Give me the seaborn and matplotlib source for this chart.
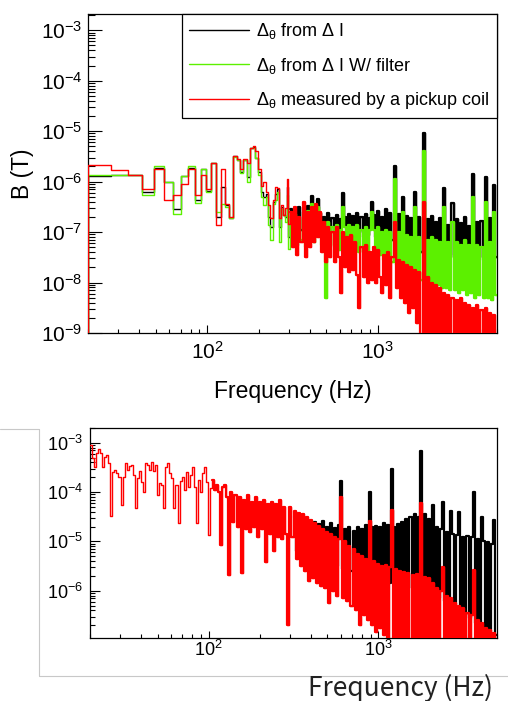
import matplotlib

matplotlib.use("Agg")
import matplotlib.pyplot as plt
import numpy as np
import pandas as pd
import seaborn as sns
from matplotlib.lines import Line2D
from matplotlib.ticker import LogLocator, NullFormatter

sns.set_style("ticks")
plt.rcParams["font.family"] = ["Liberation Sans", "DejaVu Sans"]
plt.rcParams["mathtext.fontset"] = "custom"
plt.rcParams["mathtext.rm"] = "Liberation Sans"
plt.rcParams["mathtext.it"] = "Liberation Sans"
plt.rcParams["mathtext.bf"] = "Liberation Sans:bold"
plt.rcParams["path.simplify"] = False
for key in ["text.color", "axes.labelcolor", "xtick.color", "ytick.color", "axes.edgecolor"]:
    plt.rcParams[key] = "black"

# ---------------- data (values are log10 of B in tesla) ----------------
# top panel: FFT bins of 7.15 Hz from 20.1 Hz up to ~306 Hz ...
f_bin_width = 7.15
f_first_edge = 20.1
n_low_bins = 40
# ... then merged onto 100 log-spaced bins up to 5 kHz
n_high_bins = 100
f_max = 5000.0

top_black_low = [
    -5.88, -5.87, -5.86, -6.20, -5.72, -6.00, -6.55, -5.88, -5.72, -6.37,
    -5.75, -6.18, -5.63, -6.70, -6.10, -6.47, -6.72, -5.50, -5.57, -5.80,
    -5.57, -5.90, -5.34, -5.31, -5.53, -5.80, -6.20, -6.30, -6.25, -6.70,
    -6.90, -6.40, -6.25, -6.15, -6.90, -6.50, -6.67, -6.70, -6.10, -7.10,
]
top_green_low = [
    -5.87, -5.87, -5.87, -6.26, -5.69, -6.00, -6.64, -5.88, -5.69, -6.42,
    -5.75, -6.21, -5.63, -6.60, -6.44, -6.50, -6.73, -5.52, -5.57, -5.82,
    -5.58, -6.01, -5.34, -5.33, -5.53, -5.86, -6.31, -6.46, -6.30, -6.85,
    -7.16, -6.45, -6.37, -6.20, -7.20, -6.55, -6.67, -6.80, -6.26, -7.33,
]
top_red_low = [
    -5.67, -5.77, -5.86, -6.14, -5.75, -6.37, -6.26, -6.04, -5.75, -6.26,
    -5.86, -6.14, -5.63, -6.85, -5.75, -6.44, -6.70, -5.50, -5.55, -5.75,
    -5.56, -5.63, -5.34, -5.30, -5.40, -5.75, -6.08, -6.01, -6.21, -6.47,
    -6.73, -6.37, -6.11, -6.12, -6.73, -6.47, -6.67, -6.52, -5.94, -6.83,
]

top_black_high = [
    -6.55, -6.95, -6.62, -7.00, -6.50, -6.95, -6.60, -7.00, -6.48, -6.95,
    -6.29, -6.95, -6.68, -6.35, -6.62, -7.00, -6.70, -6.98, -6.62, -7.00,
    -6.72, -7.00, -6.66, -7.05, -6.75, -6.23, -6.70, -7.05, -6.65, -7.00,
    -6.68, -7.05, -6.62, -7.00, -6.70, -7.10, -6.64, -7.05, -6.72, -6.41,
    -6.66, -7.10, -6.58, -7.05, -6.70, -7.15, -6.55, -7.10, -6.62, -7.15,
    -5.70, -7.20, -6.65, -7.25, -6.31, -7.30, -6.68, -7.25, -6.72, -7.35,
    -6.21, -7.30, -6.70, -7.40, -5.03, -7.35, -6.75, -7.40, -6.68, -7.45,
    -6.80, -7.40, -6.72, -7.45, -6.13, -7.40, -6.85, -7.50, -6.43, -7.45,
    -6.75, -7.50, -6.82, -7.45, -6.70, -7.50, -6.88, -7.50, -5.84, -7.55,
    -6.80, -7.50, -6.78, -7.55, -5.90, -7.50, -6.72, -7.55, -6.06, -7.50,
]
top_green_high = [
    -6.70, -7.20, -6.65, -7.25, -6.75, -7.15, -6.65, -7.30, -6.58, -7.20,
    -6.45, -7.20, -6.80, -6.50, -6.85, -7.25, -6.85, -8.30, -6.80, -7.25,
    -6.90, -7.30, -6.85, -7.35, -6.95, -6.50, -6.90, -7.35, -6.85, -7.30,
    -6.90, -7.35, -6.85, -7.40, -6.95, -7.40, -6.90, -7.45, -6.95, -6.60,
    -6.95, -7.50, -6.90, -7.45, -7.00, -7.55, -6.95, -7.50, -7.00, -7.60,
    -5.95, -7.65, -7.00, -7.70, -6.60, -7.75, -7.05, -7.80, -7.10, -7.85,
    -6.50, -7.90, -7.10, -7.95, -5.40, -7.90, -7.15, -8.00, -7.10, -8.05,
    -7.15, -8.05, -7.20, -8.10, -6.50, -8.10, -7.20, -8.15, -6.80, -8.15,
    -7.20, -8.20, -7.25, -8.15, -7.15, -8.25, -7.25, -8.20, -6.30, -8.30,
    -7.25, -8.25, -7.30, -8.30, -6.40, -8.30, -7.20, -8.35, -6.60, -8.25,
]
top_red_high = [
    -6.60, -7.30, -6.50, -7.45, -6.70, -7.20, -6.40, -7.50, -6.60, -7.30,
    -6.50, -7.20, -6.45, -7.10, -6.60, -7.40, -6.80, -7.60, -6.90, -7.50,
    -7.00, -7.60, -6.90, -7.50, -8.20, -7.00, -7.70, -7.10, -7.80, -7.05,
    -7.75, -7.20, -7.85, -8.50, -7.30, -7.90, -7.25, -8.00, -7.40, -7.95,
    -7.30, -8.00, -7.35, -7.90, -8.20, -7.45, -8.05, -7.40, -8.30, -7.50,
    -6.80, -8.10, -7.55, -8.30, -7.60, -8.40, -7.65, -8.60, -7.70, -8.50,
    -7.75, -8.80, -7.80, -9.30, -6.40, -9.30, -7.90, -9.30, -8.00, -9.30,
    -8.05, -9.30, -8.10, -9.30, -8.20, -9.30, -8.25, -9.30, -8.30, -9.30,
    -8.35, -9.30, -8.30, -9.30, -8.40, -9.30, -8.45, -9.30, -8.50, -9.30,
    -8.45, -9.30, -8.55, -9.30, -8.50, -9.30, -8.60, -9.30, -8.65, -9.30,
]

# bottom panel: 200 log-spaced bins 20 Hz - 5 kHz
n_bottom_bins = 200
bottom_red = [
    -3.05, -3.30, -3.48, -3.20, -3.12, -3.20, -3.50, -3.28, -3.24, -3.40,
    -4.49, -3.60, -3.55, -3.62, -3.70, -4.26, -3.70, -3.41, -3.55, -3.47,
    -3.44, -3.65, -4.32, -3.72, -3.58, -3.80, -3.99, -3.41, -3.44, -3.55,
    -3.38, -3.58, -3.44, -4.05, -3.82, -3.85, -4.32, -3.48, -3.41, -3.62,
    -3.71, -4.32, -3.85, -4.63, -3.78, -3.70, -3.95, -3.60, -3.90, -3.65,
    -3.48, -3.90, -4.62, -3.75, -3.99, -3.62, -3.50, -3.80, -4.86, -3.92,
    -3.75, -3.95, -3.85, -4.00, -5.07, -3.90, -3.85, -4.10, -5.68, -4.00,
    -4.60, -4.05, -4.70, -4.10, -5.65, -4.15, -4.75, -4.05, -4.80, -4.20,
    -4.70, -4.10, -4.90, -4.20, -4.75, -4.15, -5.41, -4.25, -4.85, -4.20,
    -5.20, -4.25, -4.90, -4.15, -4.95, -4.30, -4.85, -6.69, -4.30, -4.90,
    -4.38, -5.35, -4.42, -5.50, -4.45, -5.60, -4.50, -5.81, -4.56, -5.75,
    -4.62, -5.85, -4.68, -5.90, -4.75, -5.95, -4.80, -6.25, -4.85, -6.00,
    -4.90, -6.10, -4.95, -4.09, -6.15, -5.00, -6.20, -5.10, -6.30, -5.15,
    -6.40, -5.25, -6.69, -5.30, -6.50, -5.35, -6.60, -4.59, -6.70, -5.40,
    -6.83, -5.45, -6.75, -5.50, -6.90, -5.48, -7.50, -5.52, -4.36, -7.50,
    -5.55, -7.50, -5.60, -7.50, -5.62, -7.50, -5.65, -7.50, -5.68, -7.50,
    -5.66, -7.50, -4.22, -7.50, -5.72, -7.50, -5.75, -7.50, -5.85, -7.50,
    -5.95, -7.50, -6.00, -5.51, -7.50, -6.10, -7.50, -6.15, -7.50, -6.25,
    -7.50, -6.30, -7.50, -6.35, -7.50, -6.45, -7.50, -6.50, -5.57, -7.50,
    -6.60, -7.50, -6.65, -7.50, -6.75, -7.50, -6.80, -7.50, -6.85, -7.50,
]
# the black curve lies under the red one below ~320 Hz; its own bins start at 100
n_shared = 100
bottom_black_high = [
    -4.50, -5.20, -4.55, -5.25, -4.52, -5.30, -4.60, -5.30, -4.62, -5.35,
    -4.60, -5.40, -4.65, -5.40, -4.58, -5.45, -4.70, -5.45, -4.62, -5.50,
    -4.72, -5.50, -4.66, -3.77, -5.55, -4.75, -5.55, -4.70, -5.60, -4.78,
    -5.60, -4.70, -5.65, -4.75, -5.65, -4.66, -5.70, -3.99, -4.70, -5.75,
    -4.68, -5.75, -4.70, -5.80, -4.62, -5.80, -4.66, -5.85, -3.53, -4.70,
    -5.85, -4.65, -5.90, -4.60, -5.90, -4.55, -5.95, -4.50, -5.95, -4.45,
    -6.00, -4.50, -3.16, -6.00, -4.45, -6.05, -4.55, -6.05, -4.26, -6.10,
    -4.70, -6.15, -4.75, -4.19, -6.20, -4.80, -6.30, -4.38, -4.85, -6.35,
    -4.86, -4.40, -6.40, -4.90, -6.50, -4.88, -6.55, -4.92, -4.00, -6.65,
    -4.95, -6.70, -4.51, -5.00, -6.80, -5.02, -6.85, -5.05, -4.56, -6.90,
]

legend_labels = [
    r"$\Delta_{\theta}$ from $\Delta$ I",
    r"$\Delta_{\theta}$ from $\Delta$ I W/ filter",
    r"$\Delta_{\theta}$ measured by a pickup coil",
]
BLACK, GREEN, RED = "#000000", "#5cf000", "#ff0000"

# bin edges
edges_low = f_first_edge + f_bin_width * np.arange(n_low_bins + 1)
edges_high = np.geomspace(edges_low[-1], f_max, n_high_bins + 1)
top_edges = np.concatenate([edges_low, edges_high[1:]])
bottom_edges = np.geomspace(20, f_max, n_bottom_bins + 1)

THIN, THICK = 1.0, 1.6
bottom_dense_from = 60  # bins above ~100 Hz drawn as a dense band


def draw_hist(ax, edges, logvals, color, lw=THIN, from_zero=False):
    # ROOT-style outline histogram
    x = list(edges)
    y = list(10.0 ** np.asarray(logvals, dtype=float))
    y.append(y[-1])
    if from_zero:
        x = [x[0]] + x
        y = [1e-12] + y
    df = pd.DataFrame({"f": x, "B": y})
    sns.lineplot(data=df, x="f", y="B", ax=ax, color=color, lw=lw,
                 drawstyle="steps-post", sort=False, estimator=None,
                 zorder=3, legend=False)


def style_axis(ax, ylen, xlen, fs, xpad, ypad):
    ax.set_xscale("log")
    ax.set_yscale("log")
    ax.xaxis.set_major_locator(LogLocator(base=10, numticks=12))
    ax.xaxis.set_minor_locator(LogLocator(base=10, subs=np.arange(2, 10), numticks=12))
    ax.yaxis.set_major_locator(LogLocator(base=10, numticks=15))
    ax.yaxis.set_minor_locator(LogLocator(base=10, subs=np.arange(2, 10), numticks=15))
    ax.xaxis.set_minor_formatter(NullFormatter())
    ax.yaxis.set_minor_formatter(NullFormatter())
    ax.tick_params(which="both", direction="in", top=False, right=False,
                   width=0.8, color="black")
    ax.tick_params(axis="y", which="major", length=ylen[0], pad=ypad, labelsize=fs)
    ax.tick_params(axis="y", which="minor", length=ylen[1])
    ax.tick_params(axis="x", which="major", length=xlen[0], pad=xpad, labelsize=fs)
    ax.tick_params(axis="x", which="minor", length=xlen[1])
    for s in ax.spines.values():
        s.set_visible(True)
        s.set_linewidth(0.9)
        s.set_color("black")
    ax.set_xlim(20, f_max)


fig = plt.figure(figsize=(5.08, 7.01), dpi=100)

# ---------------- top panel ----------------
ax1 = fig.add_axes([88 / 508, 1 - 333 / 701, 409 / 508, 319 / 701])
for low, high, color in [(top_black_low, top_black_high, BLACK),
                         (top_green_low, top_green_high, GREEN),
                         (top_red_low, top_red_high, RED)]:
    draw_hist(ax1, top_edges, low + high, color, from_zero=True)
    draw_hist(ax1, edges_high, high, color, lw=THICK)
style_axis(ax1, (10, 5), (5.5, 3), 15, 6, 4)
ax1.set_ylim(1e-9, 2.1e-3)
ax1.set_xlabel("Frequency (Hz)", fontsize=16.5, labelpad=12)
ax1.set_ylabel("B (T)", fontsize=16.5, labelpad=5)

handles = [Line2D([], [], color=c, lw=1.0) for c in (BLACK, GREEN, RED)]
leg = ax1.legend(handles, legend_labels, loc="upper right", bbox_to_anchor=(1, 1),
                 borderaxespad=0, frameon=True, fancybox=False, edgecolor="black",
                 framealpha=1, fontsize=13, handlelength=3.3, handletextpad=0.4,
                 labelspacing=0.8, borderpad=0.4)
leg.get_frame().set_linewidth(0.9)

# ---------------- bottom panel ----------------
ax2 = fig.add_axes([90 / 508, 1 - 638 / 701, 407 / 508, 210 / 701])
draw_hist(ax2, bottom_edges[n_shared:], bottom_black_high, BLACK, lw=THICK)
draw_hist(ax2, bottom_edges, bottom_red, RED)
draw_hist(ax2, bottom_edges[bottom_dense_from:], bottom_red[bottom_dense_from:], RED, lw=THICK)
style_axis(ax2, (7, 3.5), (5, 3), 13, 1.5, 5)
ax2.set_ylim(1.1e-7, 2.0e-3)
ax2.set_xlabel("")
ax2.set_ylabel("")

# screenshot frame around the lower plot
gray = "#c8c8c8"
fig.add_artist(Line2D([0, 39 / 508], [1 - 429 / 701] * 2, transform=fig.transFigure, color=gray, lw=0.8))
fig.add_artist(Line2D([39 / 508] * 2, [1 - 429 / 701, 1 - 676 / 701], transform=fig.transFigure, color=gray, lw=0.8))
fig.add_artist(Line2D([39 / 508, 1], [1 - 676 / 701] * 2, transform=fig.transFigure, color=gray, lw=0.8))
fig.text(400 / 508, 1 - 688 / 701, "Frequency (Hz)", ha="center", va="center",
         fontsize=19, color="#222222", family=["Noto Sans CJK KR", "DejaVu Sans"])

fig.savefig("out.png", dpi=100)
